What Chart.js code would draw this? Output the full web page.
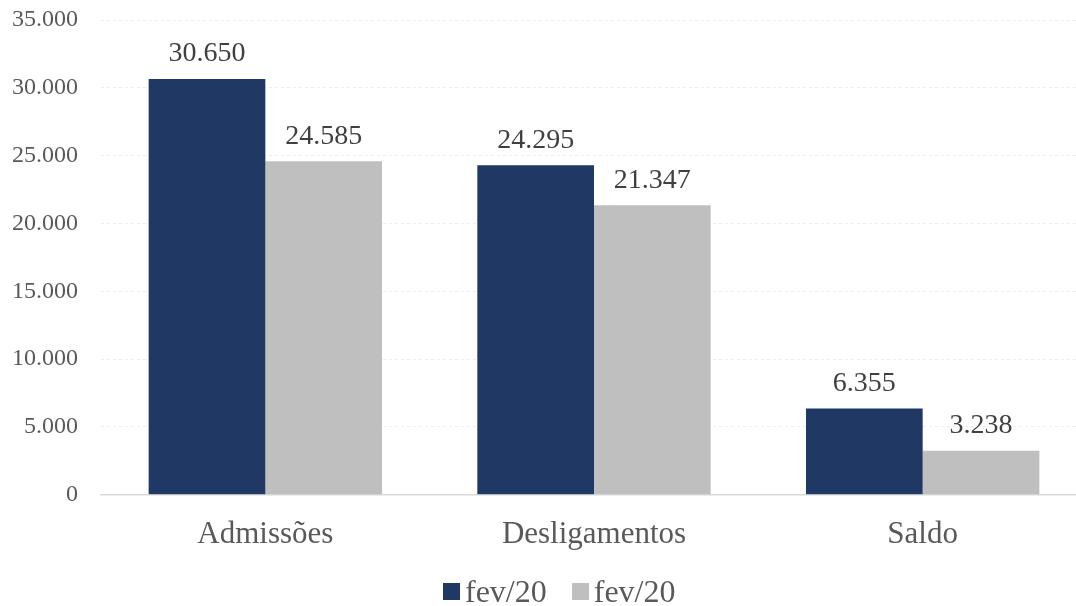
<!DOCTYPE html>
<html>
<head>
<meta charset="utf-8">
<script src="https://cdn.jsdelivr.net/npm/chart.js@4/dist/chart.umd.min.js"></script>
<style>
    html, body { margin: 0; padding: 0; background: #fff; overflow: hidden; }
    #wrap { position: relative; width: 1120px; height: 606px; }
    #legenda {
        position: absolute; left: 443px; top: 575px;
        display: flex; align-items: center;
        font-family: "Liberation Serif", "Times New Roman", serif;
        font-size: 32px; line-height: 32px; color: #595959;
    }
    #legenda .item { display: flex; align-items: center; margin-right: 25px; }
    #legenda .caixa { width: 17px; height: 17px; margin-right: 5px; }
</style>
</head>
<body>
<div id="wrap">
    <canvas id="mainChart"></canvas>
    <div id="legenda"></div>
</div>
<script>
// dados do gráfico
const categorias = ['Admissões', 'Desligamentos', 'Saldo'];
const serieA = [30650, 24295, 6355];
const serieB = [24585, 21347, 3238];
const rotulosSeries = ['fev/20', 'fev/20'];
const cores = ['#203864', '#BFBFBF'];

const fonte = '"Liberation Serif", "Times New Roman", serif';
const corTexto = '#595959';

function formatar(v) {
    return v.toString().replace(/\B(?=(\d{3})+(?!\d))/g, '.');
}

// rótulos acima das barras
const rotulosBarras = {
    id: 'rotulosBarras',
    afterDatasetsDraw(chart) {
        const ctx = chart.ctx;
        ctx.save();
        ctx.font = '28px ' + fonte;
        ctx.fillStyle = '#404040';
        ctx.textAlign = 'center';
        ctx.textBaseline = 'bottom';
        chart.data.datasets.forEach((ds, i) => {
            chart.getDatasetMeta(i).data.forEach((bar, j) => {
                ctx.fillText(formatar(ds.data[j]), bar.x, bar.y - 11);
            });
        });
        ctx.restore();
    }
};

const ctx = document.getElementById('mainChart').getContext('2d');

const grafico = new Chart(ctx, {
    type: 'bar',
    data: {
        labels: categorias,
        datasets: [
            {
                label: rotulosSeries[0],
                data: serieA,
                backgroundColor: cores[0]
            },
            {
                label: rotulosSeries[1],
                data: serieB,
                backgroundColor: cores[1]
            }
        ]
    },
    options: {
        responsive: true,
        maintainAspectRatio: false,
        animation: false,
        layout: {
            padding: { top: 20, right: 33, left: -11, bottom: 40 }
        },
        datasets: {
            bar: {
                categoryPercentage: 0.71,
                barPercentage: 1.0
            }
        },
        scales: {
            x: {
                grid: { display: false },
                border: { color: '#D9D9D9', width: 1.5 },
                ticks: {
                    color: corTexto,
                    font: { family: fonte, size: 31 },
                    padding: 13
                }
            },
            y: {
                min: 0,
                max: 35000,
                grid: { color: '#EDEDED', drawTicks: false },
                border: { display: false, dash: [3, 3] },
                ticks: {
                    stepSize: 5000,
                    color: corTexto,
                    font: { family: fonte, size: 24 },
                    padding: 23,
                    callback: v => formatar(v)
                },
                // o padding dos ticks não deve somar na vertical
                afterFit(scale) {
                    scale.paddingTop = 0;
                    scale.paddingBottom = 0;
                }
            }
        },
        plugins: {
            legend: { display: false },
            tooltip: { enabled: false }
        }
    },
    plugins: [rotulosBarras]
});

// legenda em HTML
const legenda = document.getElementById('legenda');
grafico.data.datasets.forEach(ds => {
    const item = document.createElement('div');
    item.className = 'item';
    const caixa = document.createElement('span');
    caixa.className = 'caixa';
    caixa.style.background = ds.backgroundColor;
    const texto = document.createElement('span');
    texto.textContent = ds.label;
    item.appendChild(caixa);
    item.appendChild(texto);
    legenda.appendChild(item);
});
</script>
</body>
</html>
